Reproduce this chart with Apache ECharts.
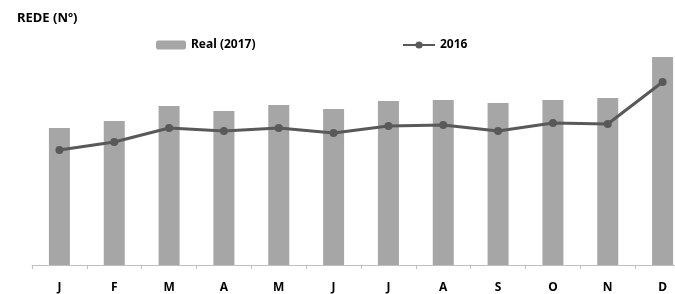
<!DOCTYPE html>
<html>
<head>
<meta charset="utf-8">
<script src="https://cdn.jsdelivr.net/npm/echarts@6/dist/echarts.min.js"></script>
<style>
  html, body { margin: 0; padding: 0; background: #fff; }
  #chart { width: 675px; height: 294px; }
</style>
</head>
<body>
<div id="chart"></div>
<script>
const months = ['J', 'F', 'M', 'A', 'M', 'J', 'J', 'A', 'S', 'O', 'N', 'D'];
const real2017 = [137, 144, 159, 154, 160, 156, 164, 165, 162, 165, 167, 208];
const line2016 = [115, 123, 137, 134, 137, 132, 139, 140, 134, 142, 141, 183];

const chart = echarts.init(document.getElementById('chart'));

const option = {
  animation: false,
  title: {
    text: 'REDE (Nº)',
    left: 12,
    top: 7,
    textStyle: {
      fontFamily: 'Noto Sans',
      fontSize: 13,
      fontWeight: 'bold',
      color: '#000'
    }
  },
  legend: [
    {
      data: ['Real (2017)'],
      left: 151,
      top: 34,
      itemWidth: 30,
      itemHeight: 9,
      textStyle: { fontFamily: 'Noto Sans', fontSize: 12, fontWeight: 'bold', color: '#000' }
    },
    {
      data: ['2016'],
      left: 397,
      top: 34,
      itemWidth: 32,
      itemHeight: 9,
      textStyle: { fontFamily: 'Noto Sans', fontSize: 12, fontWeight: 'bold', color: '#000' }
    }
  ],
  grid: {
    left: 32,
    top: 45,
    width: 658,
    height: 220,
    outerBoundsMode: 'none'
  },
  xAxis: {
    type: 'category',
    data: months,
    axisLine: { lineStyle: { color: '#bfbfbf', width: 1 } },
    axisTick: { show: true, length: 4, lineStyle: { color: '#bfbfbf' } },
    axisLabel: {
      margin: 17,
      fontFamily: 'Noto Sans',
      fontSize: 12,
      fontWeight: 'bold',
      color: '#000'
    }
  },
  yAxis: {
    type: 'value',
    min: 0,
    max: 220,
    show: false,
    splitLine: { show: false }
  },
  series: [
    {
      name: 'Real (2017)',
      type: 'bar',
      data: real2017,
      barWidth: 21,
      itemStyle: { color: '#a6a6a6' }
    },
    {
      name: '2016',
      type: 'line',
      data: line2016,
      symbol: 'circle',
      symbolSize: 8,
      lineStyle: { color: '#595959', width: 3 },
      itemStyle: { color: '#595959' }
    }
  ]
};

chart.setOption(option);
</script>
</body>
</html>
